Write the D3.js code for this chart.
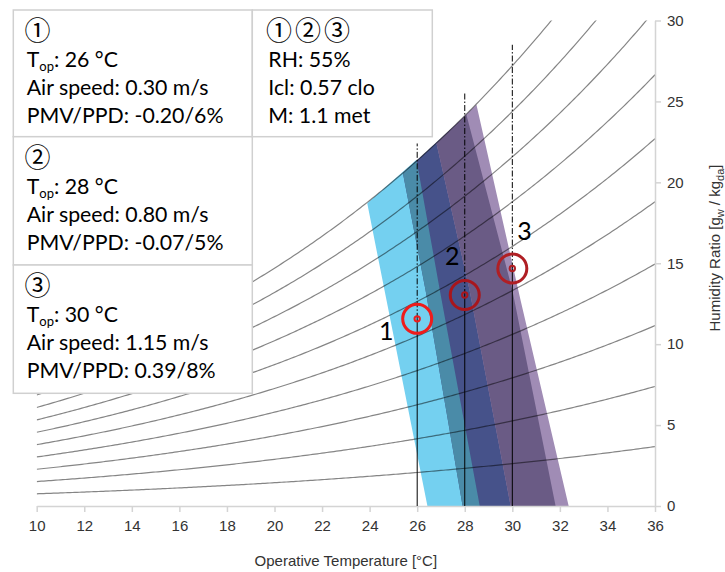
<!DOCTYPE html>
<html>
<head>
<meta charset="utf-8">
<script src="https://cdn.jsdelivr.net/npm/d3@7"></script>
<style>
  html, body { margin: 0; padding: 0; background: #fff; }
  svg { display: block; }
</style>
</head>
<body>
<svg id="chart" width="725" height="572"></svg>
<script>
// ---- axis ticks ----
const tempTicks = [10, 12, 14, 16, 18, 20, 22, 24, 26, 28, 30, 32, 34, 36];
const humidityTicks = [0, 5, 10, 15, 20, 25, 30];

// ---- constant relative-humidity curves [%] ----
const rhLevels = [10, 20, 30, 40, 50, 60, 70, 80, 90, 100];

// ---- the three evaluated conditions ----
const caseMarks = ["①", "②", "③"];
const caseLabels = ["1", "2", "3"];
const caseTemps = [26, 28, 30];            // operative temperature [°C]
const caseAirSpeeds = ["0.30", "0.80", "1.15"];
const casePmv = ["-0.20", "-0.07", "0.39"];
const casePpd = ["6%", "5%", "8%"];
const sharedRh = 55;                        // [%]
const sharedClo = "0.57";
const sharedMet = "1.1";

// upper ends of the dash-dot guides [g/kg]
const guideTops = [22.4, 25.5, 28.5];

// comfort zones (-0.5 <= PMV <= +0.5), outlines as [T °C, W g/kg]
const zone1 = [[23.9, 18.7], [25.97, 21.4], [26.95, 13.35], [28.63, 0], [26.43, 0]];
const zone2 = [[25.40, 20.56], [28.07, 24.17], [30.0, 13.35], [31.82, 0], [27.91, 0], [26.35, 13.35]];
const zone3 = [[26.81, 22.42], [28.49, 24.81], [30.35, 12.7], [32.37, 0], [29.93, 0], [28.2, 13.35]];

// ---- psychrometrics (ASHRAE saturation pressure over liquid water) ----
function satPressure(tC) {
  const T = tC + 273.15;
  return Math.exp(-5.8002206e3 / T + 1.3914993 - 4.8640239e-2 * T
    + 4.1764768e-5 * T * T - 1.4452093e-8 * T * T * T + 6.5459673 * Math.log(T));
}
function humidityRatio(tC, rh) {
  const pw = rh / 100 * satPressure(tC);
  return 621.945 * pw / (101325 - pw);       // g_w / kg_da
}

// ---- layout ----
const svg = d3.select("#chart");
const x = d3.scaleLinear().domain([10, 36]).range([36.7, 655]);
const y = d3.scaleLinear().domain([0, 30]).range([506, 20.5]);
const axisFont = "'Liberation Sans', Arial, sans-serif";
const boxFont = "Lato, 'Noto Sans CJK JP', sans-serif";
const markFont = "'Noto Sans CJK JP', sans-serif";

const defs = svg.append("defs");
defs.append("clipPath").attr("id", "plot-area")
  .append("rect")
  .attr("x", x(10)).attr("y", y(30))
  .attr("width", x(36) - x(10)).attr("height", y(0) - y(30));

const outline = d3.line().x(d => x(d[0])).y(d => y(d[1]));
const zonePath = pts => outline(pts) + "Z";

defs.append("clipPath").attr("id", "in-zone1").append("path").attr("d", zonePath(zone1));
defs.append("clipPath").attr("id", "in-zone2").append("path").attr("d", zonePath(zone2));

// ---- comfort zones ----
const zones = svg.append("g");
zones.append("path").attr("d", zonePath(zone1)).attr("fill", "#74d0f0");
zones.append("path").attr("d", zonePath(zone2)).attr("fill", "#46528a");
zones.append("path").attr("d", zonePath(zone3)).attr("fill", "#a08cb5");
// overlaps
zones.append("path").attr("d", zonePath(zone2)).attr("fill", "#4a8ba8")
  .attr("clip-path", "url(#in-zone1)");
zones.append("path").attr("d", zonePath(zone3)).attr("fill", "#6a5b85")
  .attr("clip-path", "url(#in-zone2)");

// ---- RH curves ----
const tSamples = d3.range(10, 36.001, 0.1);
const rhLine = d3.line().x(d => x(d[0])).y(d => y(d[1]));
svg.append("g").attr("clip-path", "url(#plot-area)")
  .selectAll("path").data(rhLevels).join("path")
  .attr("d", rh => rhLine(tSamples.map(t => [t, humidityRatio(t, rh)])))
  .attr("fill", "none")
  .attr("stroke", "#000")
  .attr("stroke-opacity", 0.48)
  .attr("stroke-width", 1.2);

// ---- axes ----
const xAxis = svg.append("g")
  .attr("transform", `translate(0,${y(0)})`)
  .call(d3.axisBottom(x).tickValues(tempTicks).tickSize(6).tickSizeOuter(0).tickPadding(8));
const yAxis = svg.append("g")
  .attr("transform", `translate(${x(36)},0)`)
  .call(d3.axisRight(y).tickValues(humidityTicks).tickSize(6).tickSizeOuter(0).tickPadding(6));
[xAxis, yAxis].forEach(a => {
  a.select(".domain").attr("stroke", "#d4d4d4").attr("stroke-width", 1.5);
  a.selectAll(".tick line").attr("stroke", "#d4d4d4").attr("stroke-width", 1.5);
  a.selectAll(".tick text").attr("fill", "#333").attr("font-size", 15)
    .attr("font-family", axisFont);
});

svg.append("text")
  .attr("x", (x(10) + x(36)) / 2).attr("y", 566)
  .attr("text-anchor", "middle")
  .attr("font-family", axisFont).attr("font-size", 15).attr("fill", "#333")
  .text("Operative Temperature [°C]");

const yTitle = svg.append("text")
  .attr("transform", `translate(720,248) rotate(-90)`)
  .attr("text-anchor", "middle")
  .attr("font-family", axisFont).attr("font-size", 15).attr("fill", "#333");
yTitle.append("tspan").text("Humidity Ratio [g");
yTitle.append("tspan").attr("font-size", 11).attr("dy", 4).text("w");
yTitle.append("tspan").attr("dy", -4).text(" / kg");
yTitle.append("tspan").attr("font-size", 11).attr("dy", 4).text("da");
yTitle.append("tspan").attr("dy", -4).text("]");

// ---- guide lines at each condition ----
const pointW = caseTemps.map(t => humidityRatio(t, sharedRh));
const guides = svg.append("g").attr("stroke", "#000").attr("stroke-width", 1);
caseTemps.forEach((t, i) => {
  guides.append("line")
    .attr("x1", x(t)).attr("x2", x(t)).attr("y1", y(0)).attr("y2", y(pointW[i]));
  guides.append("line")
    .attr("x1", x(t)).attr("x2", x(t)).attr("y1", y(pointW[i])).attr("y2", y(guideTops[i]))
    .attr("stroke-dasharray", "6,2,1.5,2");
});

// ---- condition markers ----
const ringColors = ["#ee1c1c", "#a8161c", "#b01f24"];
const labelOffsets = [[-31, 21], [-12.6, -30], [12.3, -29]];
caseTemps.forEach((t, i) => {
  const cx = x(t), cy = y(pointW[i]);
  svg.append("circle").attr("cx", cx).attr("cy", cy).attr("r", 14.5)
    .attr("fill", "none").attr("stroke", ringColors[i]).attr("stroke-width", 3);
  svg.append("circle").attr("cx", cx).attr("cy", cy).attr("r", 2.7)
    .attr("fill", "none").attr("stroke", ringColors[i]).attr("stroke-width", 2);
  svg.append("text")
    .attr("x", cx + labelOffsets[i][0]).attr("y", cy + labelOffsets[i][1])
    .attr("text-anchor", "middle")
    .attr("font-family", boxFont).attr("font-size", 25).attr("fill", "#000")
    .text(caseLabels[i]);
});

// ---- info boxes ----
const boxes = svg.append("g");
function infoBox(bx, by, bw, bh) {
  boxes.append("rect").attr("x", bx).attr("y", by).attr("width", bw).attr("height", bh)
    .attr("fill", "#fff").attr("stroke", "#d0d0d0").attr("stroke-width", 1.5);
}
function boxLine(tx, ty) {
  return boxes.append("text").attr("x", tx).attr("y", ty)
    .attr("font-family", boxFont).attr("font-size", 21.3).attr("fill", "#000");
}
function markLine(tx, ty, s) {
  return boxes.append("text").attr("x", tx).attr("y", ty)
    .attr("font-family", markFont).attr("font-size", 26).attr("letter-spacing", 3)
    .attr("fill", "#000").text(s);
}
const caseBoxTops = [10, 136.7, 265];
const caseBoxHeights = [126.7, 128.3, 128.3];
caseTemps.forEach((t, i) => {
  const top = caseBoxTops[i];
  infoBox(13.3, top, 239, caseBoxHeights[i]);
  markLine(24.5, top + 30, caseMarks[i]);
  const tl = boxLine(26.7, top + 57);
  tl.append("tspan").text("T");
  tl.append("tspan").attr("font-size", 13).attr("dy", 4).text("op");
  tl.append("tspan").attr("dy", -4).text(`: ${t} °C`);
  boxLine(26.7, top + 85).text(`Air speed: ${caseAirSpeeds[i]} m/s`);
  boxLine(26.7, top + 113).text(`PMV/PPD: ${casePmv[i]}/${casePpd[i]}`);
});
infoBox(252.3, 10, 180, 126.7);
markLine(266, 40, caseMarks.join(""));
boxLine(268.3, 67).text(`RH: ${sharedRh}%`);
boxLine(268.3, 95).text(`Icl: ${sharedClo} clo`);
boxLine(268.3, 123).text(`M: ${sharedMet} met`);
</script>
</body>
</html>
